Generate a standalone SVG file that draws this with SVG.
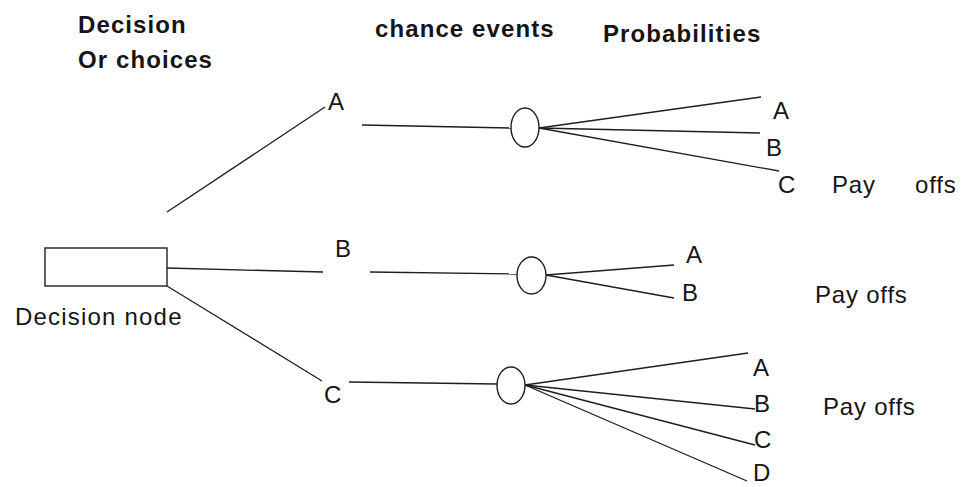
<svg xmlns="http://www.w3.org/2000/svg" width="961" height="487" viewBox="0 0 961 487">
<style>
.hd{font-family:"Liberation Sans",Arial,sans-serif;font-size:24px;font-weight:bold;fill:#151515;letter-spacing:1.1px}
.lb{font-family:"Liberation Sans",Arial,sans-serif;font-size:24px;fill:#151515;letter-spacing:0.8px}
.ln{stroke:#1e1e1e;stroke-width:1.3;fill:none}
.nd{stroke:#1e1e1e;stroke-width:1.4;fill:#fff}
</style>
<rect width="961" height="487" fill="#fff"/>
<g id="headers">
<text class="hd" x="78" y="33">Decision</text>
<text class="hd" x="78" y="68">Or choices</text>
<text class="hd" x="375" y="37">chance events</text>
<text class="hd" x="603" y="42">Probabilities</text>
</g>
<g id="connectors">
<line class="ln" x1="167" y1="212" x2="325" y2="107"/>
<line class="ln" x1="362" y1="125" x2="511" y2="128"/>
<line class="ln" x1="539" y1="128" x2="761" y2="97"/>
<line class="ln" x1="539" y1="128" x2="760" y2="133"/>
<line class="ln" x1="539" y1="128" x2="779" y2="171"/>
<line class="ln" x1="167" y1="268" x2="323" y2="272"/>
<line class="ln" x1="370" y1="272" x2="517" y2="274"/>
<line class="ln" x1="546" y1="275" x2="674" y2="265"/>
<line class="ln" x1="546" y1="275" x2="674" y2="298"/>
<line class="ln" x1="167" y1="286" x2="322" y2="381"/>
<line class="ln" x1="349" y1="382" x2="497" y2="384"/>
<line class="ln" x1="525" y1="385" x2="748" y2="353"/>
<line class="ln" x1="525" y1="385" x2="755" y2="409"/>
<line class="ln" x1="525" y1="385" x2="755" y2="445"/>
<line class="ln" x1="525" y1="385" x2="747" y2="481"/>
</g>
<g id="decision-node">
<rect class="nd" x="45" y="248" width="122" height="38"/>
<text class="lb" x="15" y="325" style="letter-spacing:1.2px">Decision node</text>
</g>
<g id="choice-A"><text class="lb" x="328" y="110">A</text></g>
<g id="choice-B"><text class="lb" x="335" y="257">B</text></g>
<g id="choice-C"><text class="lb" x="324" y="403">C</text></g>
<g id="chance-1">
<ellipse class="nd" cx="525" cy="127.5" rx="14" ry="19.5"/>
<text class="lb" x="773" y="119">A</text>
<text class="lb" x="766" y="156">B</text>
<text class="lb" x="778" y="193">C</text>
<text class="lb" y="193"><tspan x="832">Pay</tspan> <tspan x="915">offs</tspan></text>
</g>
<g id="chance-2">
<ellipse class="nd" cx="531.5" cy="275.5" rx="14.5" ry="18.5"/>
<text class="lb" x="686" y="263">A</text>
<text class="lb" x="682" y="301">B</text>
<text class="lb" x="815" y="303">Pay offs</text>
</g>
<g id="chance-3">
<ellipse class="nd" cx="511" cy="385.5" rx="14" ry="18.5"/>
<text class="lb" x="753" y="376">A</text>
<text class="lb" x="754" y="412">B</text>
<text class="lb" x="754" y="448">C</text>
<text class="lb" x="753" y="481">D</text>
<text class="lb" x="823" y="415">Pay offs</text>
</g>
</svg>
